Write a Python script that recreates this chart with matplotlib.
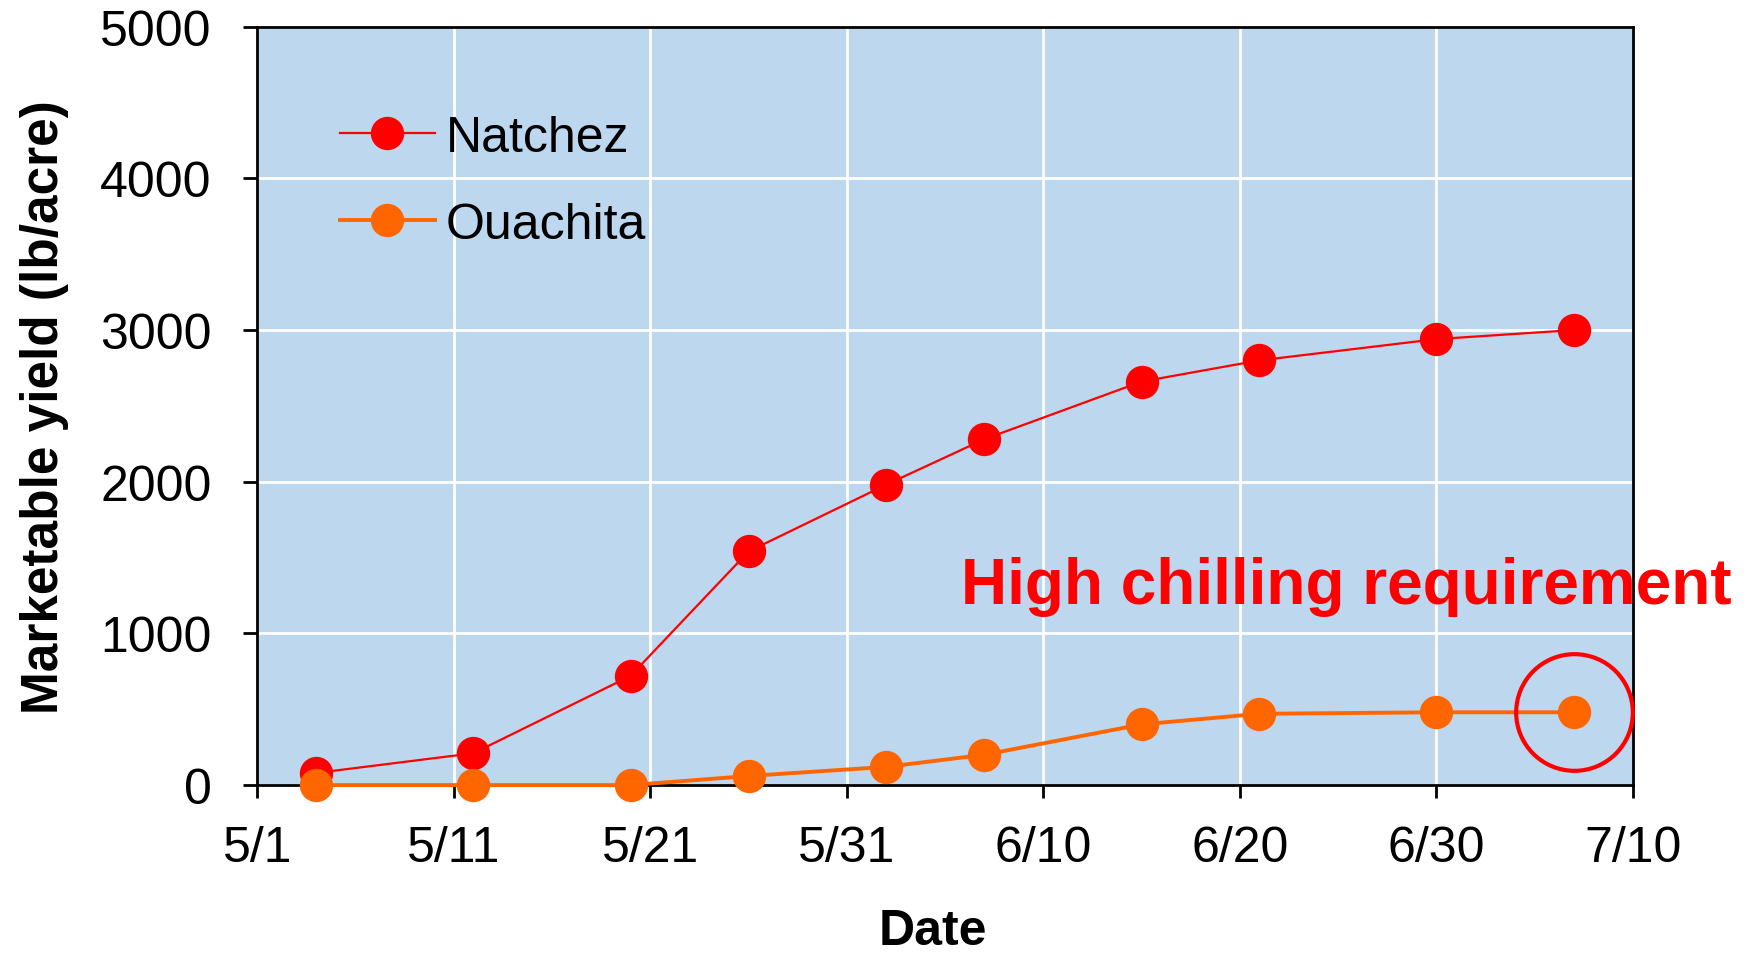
import matplotlib
matplotlib.use("Agg")
import matplotlib.pyplot as plt
import matplotlib.dates as mdates
from matplotlib.ticker import FuncFormatter
from datetime import datetime, timedelta

# Données de récolte (rendement cumulé commercialisable)
harvest_dates = ["5/4", "5/12", "5/20", "5/26", "6/2", "6/7", "6/15", "6/21", "6/30", "7/7"]
natchez = [80, 210, 720, 1540, 1980, 2280, 2660, 2800, 2940, 3000]
ouachita = [0, 0, 0, 60, 120, 200, 400, 470, 480, 480]

YEAR = 2016
dates = [datetime.strptime(f"{d}/{YEAR}", "%m/%d/%Y") for d in harvest_dates]
start = datetime(YEAR, 5, 1)
tick_dates = [start + timedelta(days=10 * i) for i in range(8)]

plt.rcParams['font.family'] = ['Liberation Sans', 'DejaVu Sans']

fig = plt.figure(figsize=(17.5, 9.54), dpi=100)
ax = fig.add_axes([0.147, 0.176, 0.786, 0.795])
ax.set_facecolor('#BDD7EE')

ax.plot(dates, natchez, color='#FF0000', lw=1.6, marker='o', ms=23,
        label='Natchez', zorder=3, clip_on=False)
ax.plot(dates, ouachita, color='#FF6600', lw=2.8, marker='o', ms=23,
        label='Ouachita', zorder=3, clip_on=False)

# Cercle autour du dernier point d'Ouachita
ax.plot(dates[-1], ouachita[-1], marker='o', ms=84, mfc='none',
        mec='#FF0000', mew=3, clip_on=False, zorder=4)

ax.text(start + timedelta(days=35.8), 1310, 'High chilling requirement',
        color='#FF0000', fontsize=46, fontweight='bold', va='center',
        ha='left', clip_on=False)

ax.set_xlim(tick_dates[0], tick_dates[-1])
ax.set_ylim(0, 5000)
ax.set_xticks(tick_dates)
ax.xaxis.set_major_formatter(FuncFormatter(
    lambda v, p: f"{mdates.num2date(v).month}/{mdates.num2date(v).day}"))
ax.set_yticks(range(0, 5001, 1000))

ax.grid(True, color='white', lw=2)
ax.set_axisbelow(True)
for s in ax.spines.values():
    s.set_color('black')
    s.set_linewidth(2)

ax.tick_params(axis='x', labelsize=36, length=9, width=2, pad=20, direction='out')
ax.tick_params(axis='y', labelsize=36, length=10, width=2, pad=23, direction='out')

ax.set_xlabel('Date', fontsize=36, fontweight='bold')
ax.xaxis.set_label_coords(0.491, -0.162)
ax.set_ylabel('Marketable yield (lb/acre)', fontsize=37, fontweight='bold', labelpad=22)

ax.legend(loc='upper left', bbox_to_anchor=(0.06, 0.884), frameon=False,
          fontsize=36, handlelength=1.9, handletextpad=0.22, labelspacing=0.82,
          borderpad=0, borderaxespad=0)

fig.savefig('out.png', dpi=100)
plt.close(fig)
